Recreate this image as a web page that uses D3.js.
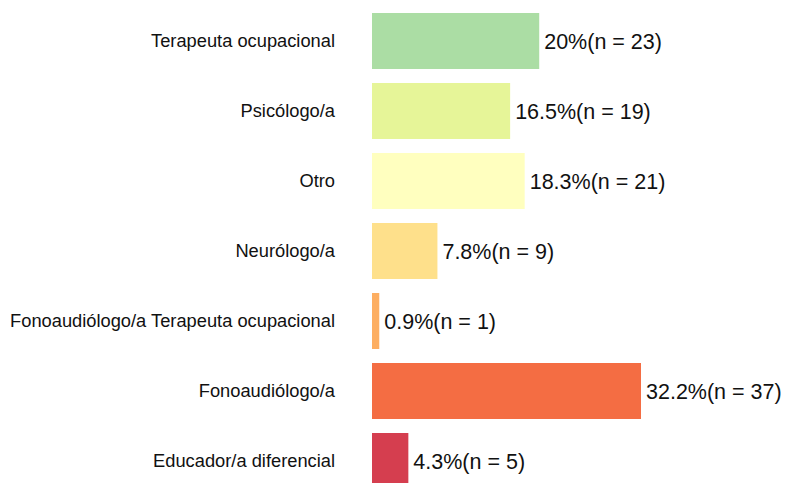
<!DOCTYPE html>
<html>
<head>
<meta charset="utf-8">
<script src="https://cdn.jsdelivr.net/npm/d3@7.9.0/dist/d3.min.js"></script>
<style>
  body { margin: 0; background: #fff; }
  svg { display: block; }
  text { font-family: "Liberation Sans", Arial, Helvetica, sans-serif; fill: #111; }
</style>
</head>
<body>
<svg width="786" height="483"></svg>
<script>
// data, top to bottom
const categories = [
  'Terapeuta ocupacional',
  'Psicólogo/a',
  'Otro',
  'Neurólogo/a',
  'Fonoaudiólogo/a Terapeuta ocupacional',
  'Fonoaudiólogo/a',
  'Educador/a diferencial'
];
const counts = [23, 19, 21, 9, 1, 37, 5];
const percents = ['20%', '16.5%', '18.3%', '7.8%', '0.9%', '32.2%', '4.3%'];
const colors = ['#abdda4', '#e6f598', '#ffffbf', '#fee08b', '#fdae61', '#f46d43', '#d53e4f'];

const data = categories.map((c, i) => ({ label: c, n: counts[i], pct: percents[i], color: colors[i] }));

const svg = d3.select('svg');

// scales
const x = d3.scaleLinear().domain([0, 37]).range([372, 641]);
const y = d3.scaleBand()
  .domain(categories)
  .range([6, 496])
  .paddingInner(0.2)
  .paddingOuter(0.1);

// bars
svg.selectAll('rect.bar')
  .data(data)
  .join('rect')
  .attr('class', 'bar')
  .attr('x', x(0))
  .attr('y', d => y(d.label))
  .attr('width', d => x(d.n) - x(0))
  .attr('height', y.bandwidth())
  .attr('fill', d => d.color);

// category labels
svg.selectAll('text.cat')
  .data(data)
  .join('text')
  .attr('class', 'cat')
  .attr('x', 335)
  .attr('y', d => y(d.label) + y.bandwidth() / 2)
  .attr('dy', '0.35em')
  .attr('text-anchor', 'end')
  .style('font-size', '18.3px')
  .text(d => d.label);

// value labels
svg.selectAll('text.val')
  .data(data)
  .join('text')
  .attr('class', 'val')
  .attr('x', d => x(d.n) + 5)
  .attr('y', d => y(d.label) + y.bandwidth() / 2)
  .attr('dy', '0.35em')
  .style('font-size', '21.5px')
  .text(d => `${d.pct}(n = ${d.n})`);
</script>
</body>
</html>
